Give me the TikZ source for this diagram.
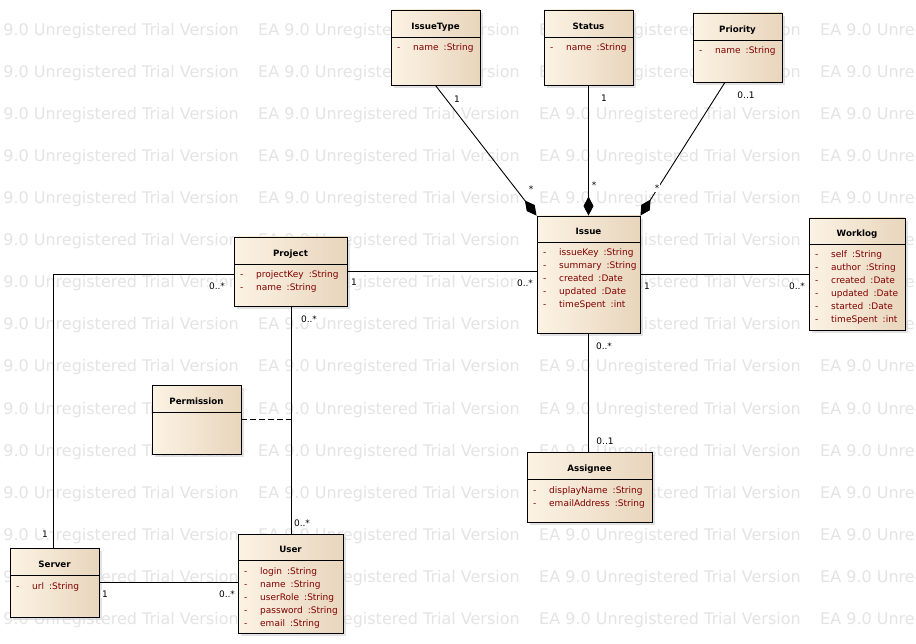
\documentclass[tikz,border=0pt]{standalone}
\usepackage{fontspec}
\setmainfont{DejaVu Sans}
\newfontfamily\wmfont{DejaVu Sans}
\usetikzlibrary{arrows.meta,shadows,calc}
\definecolor{clsL}{RGB}{252,243,228}
\definecolor{clsR}{RGB}{232,213,188}
\definecolor{attrc}{RGB}{128,0,0}
\definecolor{wmc}{RGB}{228,228,228}
\tikzset{
  cls/.style={draw=black, line width=0.9pt, left color=clsL, right color=clsR,
    drop shadow={shadow xshift=3pt, shadow yshift=-3pt, fill=black!22}, inner sep=0pt},
  sepline/.style={draw=black, line width=0.9pt},
  ttl/.style={font=\bfseries\fontsize{8.7pt}{10pt}\selectfont, anchor=base, inner sep=0pt},
  attr/.style={font=\fontsize{9pt}{10pt}\selectfont, text=attrc, anchor=base west, inner sep=0pt},
  mult/.style={font=\fontsize{9pt}{10pt}\selectfont, fill=white, inner sep=0.8pt, text height=6.5pt, text depth=0pt},
  wm/.style={font=\wmfont\fontsize{16pt}{18pt}\selectfont, text=wmc, anchor=base west, inner sep=0pt},
  assoc/.style={draw=black, line width=0.9pt},
  comp/.style={draw=black, line width=0.9pt, -{Diamond[length=19pt,width=10pt]}},
  dep/.style={draw=black, line width=0.9pt, dash pattern=on 6pt off 3pt},
}
\newcommand{\umlclass}[8]{%
  \node[cls, minimum width={#4-#2}, minimum height={#5-#3}] (#1) at ({(#2+#4)/2},{(#3+#5)/2}) {};
  \draw[sepline] (#2,#6) -- (#4,#6);
  \node[ttl] (#1-t) at ({(#2+#4)/2},#6-7.5) {#7};
  \foreach \n/\t [count=\i] in {#8} {
    \node[attr] (#1-d\i) at (#2+6,#6+1+13*\i) {-};
    \node[attr] (#1-a\i) at (#2+22,#6+1+13*\i) {\n\hspace{5pt}:\t};
  }%
}
\begin{document}
\begin{tikzpicture}[x=1pt,y=-1pt]
\useasboundingbox (0,0) rectangle (916,644);
\clip (0,0) rectangle (916,644);
\fill[white] (0,0) rectangle (916,644);
% watermark
\foreach \r in {0,...,14} {
  \foreach \c in {0,...,3} {
    \node[wm] (wm-\r-\c) at (-23+281*\c, 36+42*\r) {EA 9.0 Unregistered Trial Version};
  }
}
% classes
\umlclass{issuetype}{391}{10}{480}{85}{37}{IssueType}{name/String}
\umlclass{status}{544}{10}{633}{85}{37}{Status}{name/String}
\umlclass{priority}{693}{13}{782}{82}{40}{Priority}{name/String}
\umlclass{issue}{537}{216}{640}{333}{242}{Issue}{issueKey/String,summary/String,created/Date,updated/Date,timeSpent/int}
\umlclass{worklog}{809}{218}{905}{330}{244}{Worklog}{self/String,author/String,created/Date,updated/Date,started/Date,timeSpent/int}
\umlclass{project}{234}{237}{347}{306}{264}{Project}{projectKey/String,name/String}
\umlclass{assignee}{527}{452}{652}{522}{479}{Assignee}{displayName/String,emailAddress/String}
\umlclass{server}{10}{548}{99}{617}{575}{Server}{url/String}
\umlclass{user}{238}{534}{343}{633}{560}{User}{login/String,name/String,userRole/String,password/String,email/String}
\node[cls, minimum width=89pt, minimum height=69pt] (permission) at (196.5,419.5) {};
\draw[sepline] (152,412) -- (241,412);
\node[ttl] (permission-t) at (196.5,404.5) {Permission};
% connectors
\draw[comp] (issuetype.south) -- (issue.north west);
\draw[comp] (status.south) -- (issue.north);
\draw[comp] ($(priority.south west)!0.36!(priority.south east)$) -- (issue.north east);
\draw[assoc] (project.east) -- (project.east -| issue.west);
\draw[assoc] (issue.east) -- (issue.east -| worklog.west);
\draw[assoc] (issue.south) -- (issue.south |- assignee.north);
\draw[assoc] ([yshift=-2.5pt]project.west) -| ([xshift=-1.5pt]server.north);
\draw[assoc] ([xshift=1pt]project.south) -- ([xshift=1pt]user.north);
\coordinate (permlink) at ([xshift=1pt]project.south |- permission.east);
\draw[dep] (permission.east) -- (permlink);
\draw[assoc] (server.east) -- (server.east -| user.west);
% multiplicities
\node[mult] (m-it) at (457,99) {1};
\node[mult] (m-st) at (604,98) {1};
\node[mult] (m-pr) at (746,95) {0..1};
\node[mult] (m-i1) at (531,189) {*};
\node[mult] (m-i2) at (594,185) {*};
\node[mult] (m-i3) at (657,188) {*};
\node[mult] (m-pi1) at (354,282) {1};
\node[mult] (m-pi2) at (525,283) {0..*};
\node[mult] (m-iw1) at (647,286) {1};
\node[mult] (m-iw2) at (797,286) {0..*};
\node[mult] (m-ia1) at (604,346) {0..*};
\node[mult] (m-ia2) at (605,441) {0..1};
\node[mult] (m-ps1) at (217,286) {0..*};
\node[mult] (m-ps2) at (45,534) {1};
\node[mult] (m-pu1) at (309,319) {0..*};
\node[mult] (m-pu2) at (302,523) {0..*};
\node[mult] (m-su1) at (105,594) {1};
\node[mult] (m-su2) at (227,594) {0..*};
\end{tikzpicture}
\end{document}
